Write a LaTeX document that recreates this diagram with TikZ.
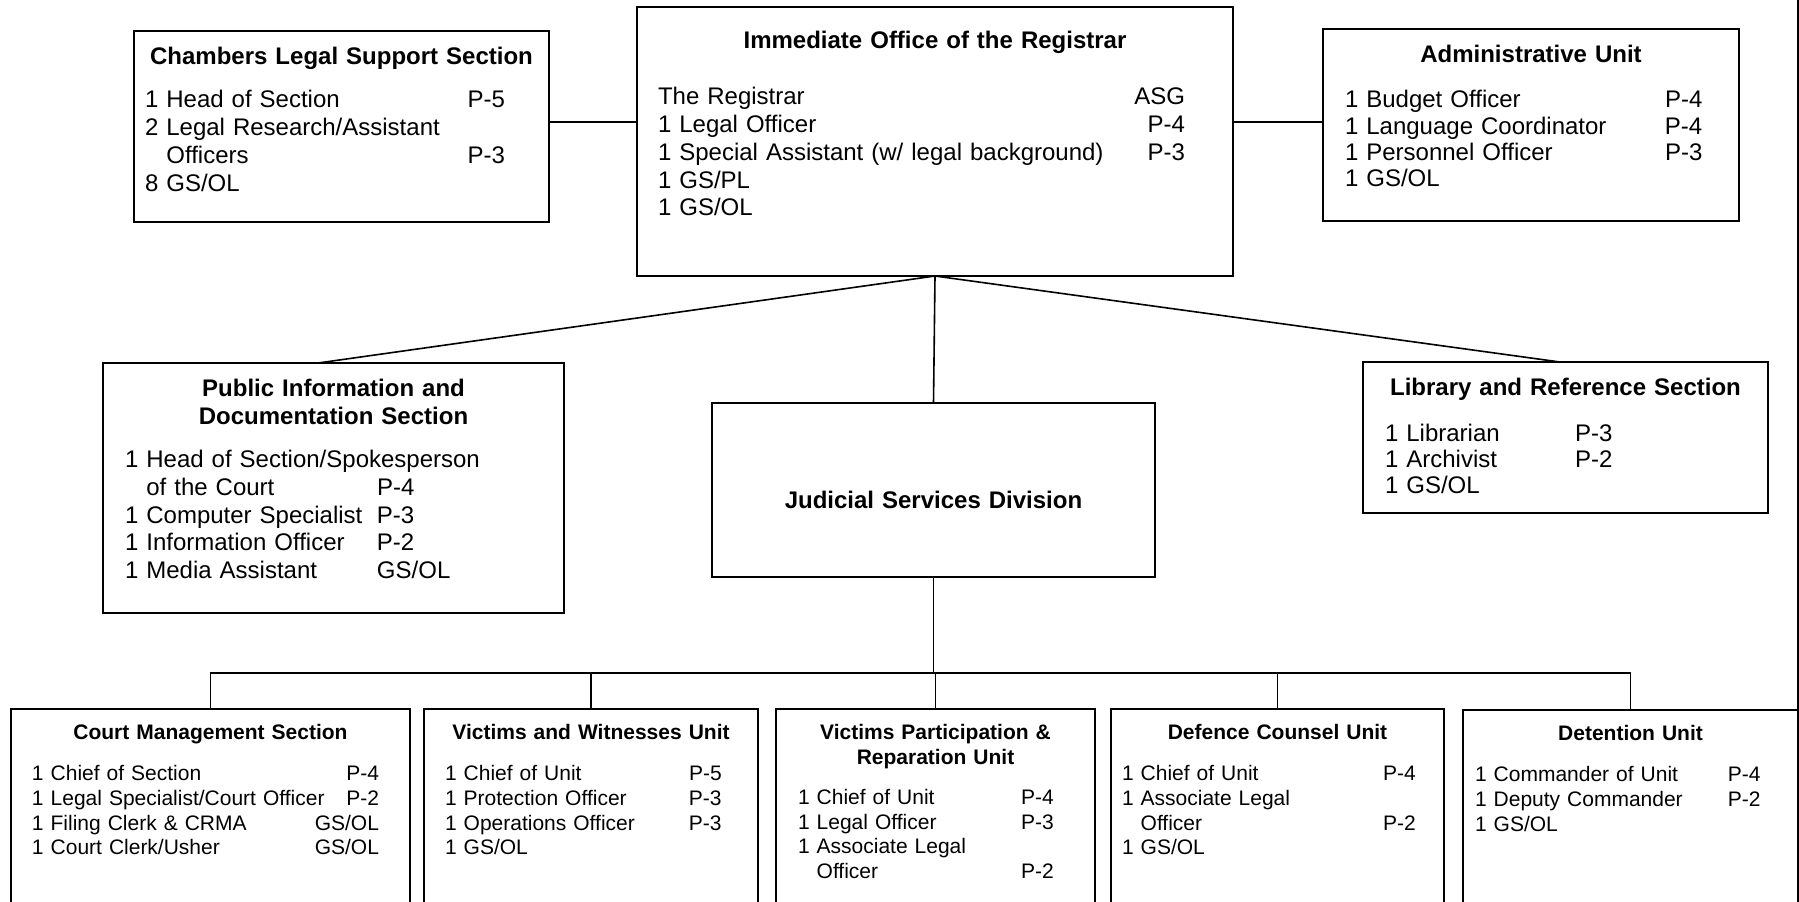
\documentclass[tikz,border=0pt]{standalone}
\usepackage{fontspec}
\setmainfont{Liberation Sans}
\tikzstyle{unit} = [rectangle, draw, line width=0.8pt, anchor=north west,
    inner ysep=0pt, outer sep=0pt, align=left]
\tikzstyle{topunit} = [unit, font=\fontsize{12}{13.9}\selectfont]
\tikzstyle{lowunit} = [unit, font=\fontsize{10.5}{12.35}\selectfont,
    text height=15.3pt, text depth=84.7pt]
\tikzstyle{line} = [draw, line width=0.8pt]
\newlength{\gradecol}
% centred bold heading of a box
\newcommand{\unittitle}[1]{{\centering\bfseries #1\par}}
% one post: name, then grade at \gradecol (left or right aligned)
\newcommand{\staffl}[2]{\makebox[\gradecol][l]{#1}#2\par}
\newcommand{\staffr}[2]{\makebox[\gradecol][l]{#1}\llap{#2}\par}
\newcommand{\wrapind}{\hphantom{1\ }}

\begin{document}
\begin{tikzpicture}[x=0.5pt, y=-0.5pt]
        \useasboundingbox (0,0) rectangle (1799,901);
        \clip (0,0) rectangle (1799,901);
        % Place nodes

        % 1. Registrar and the two units beside the office
        \node [topunit, text width=277pt, inner xsep=10.5pt, text height=20.8pt, text depth=113.7pt] (regi) at (637,7) {%
          \unittitle{Immediate Office of the Registrar}
          \vspace{14.1pt}
          \setlength{\gradecol}{263.5pt}%
          \staffr{The Registrar}{ASG}
          \staffr{1 Legal Officer}{P-4}
          \staffr{1 Special Assistant (w/ legal background)}{P-3}
          \staffr{1 GS/PL}{}
          \staffr{1 GS/OL}{}};
        \node [topunit, text width=196.5pt, inner xsep=5.5pt, text height=16.8pt, text depth=78.7pt] (cham) at (134,31) {%
          \unittitle{Chambers Legal Support Section}
          \vspace{7.6pt}
          \setlength{\gradecol}{161.25pt}%
          \staffl{1 Head of Section}{P-5}
          \staffl{2 Legal Research/Assistant}{}
          \staffl{\wrapind Officers}{P-3}
          \staffl{8 GS/OL}{}};
        \node [topunit, font=\fontsize{12}{13.2}\selectfont, text width=186pt, inner xsep=11pt, text height=16.8pt, text depth=79.2pt] (admi) at (1323,29) {%
          \unittitle{Administrative Unit}
          \vspace{9.3pt}
          \setlength{\gradecol}{160pt}%
          \staffl{1 Budget Officer}{P-4}
          \staffl{1 Language Coordinator}{P-4}
          \staffl{1 Personnel Officer}{P-3}
          \staffl{1 GS/OL}{}};

        % 2. Second row under the office
        \node [topunit, text width=208.5pt, inner xsep=11pt, text height=16.8pt, text depth=108.2pt] (publ) at (103,363) {%
          \unittitle{Public Information and\\Documentation Section}
          \vspace{7.6pt}
          \setlength{\gradecol}{126pt}%
          \staffl{1 Head of Section/Spokesperson}{}
          \staffl{\wrapind of the Court}{P-4}
          \staffl{1 Computer Specialist}{P-3}
          \staffl{1 Information Officer}{P-2}
          \staffl{1 Media Assistant}{GS/OL}};
        \node [unit, align=center, font=\fontsize{12}{13.9}\selectfont\bfseries, text width=221.5pt, inner xsep=0pt, text height=52.8pt, text depth=34.2pt] (judi) at (712,403) {Judicial Services Division};
        \node [topunit, font=\fontsize{12}{13}\selectfont, text width=180.5pt, inner xsep=11pt, text height=16.8pt, text depth=58.7pt] (libr) at (1363,362) {%
          \unittitle{Library and Reference Section}
          \vspace{10pt}
          \setlength{\gradecol}{95pt}%
          \staffl{1 Librarian}{P-3}
          \staffl{1 Archivist}{P-2}
          \staffl{1 GS/OL}{}};

        % 3. Sections of the Judicial Services Division
        \node [lowunit, text width=178.5pt, inner xsep=10.5pt] (cour) at (11,709) {%
          \unittitle{Court Management Section}
          \vspace{8.15pt}
          \setlength{\gradecol}{173.5pt}%
          \staffr{1 Chief of Section}{P-4}
          \staffr{1 Legal Specialist/Court Officer}{P-2}
          \staffr{1 Filing Clerk \& CRMA}{GS/OL}
          \staffr{1 Court Clerk/Usher}{GS/OL}};
        \node [lowunit, text width=146pt, inner xsep=10.5pt] (vict) at (424,709) {%
          \unittitle{Victims and Witnesses Unit}
          \vspace{8.15pt}
          \setlength{\gradecol}{122pt}%
          \staffl{1 Chief of Unit}{P-5}
          \staffl{1 Protection Officer}{P-3}
          \staffl{1 Operations Officer}{P-3}
          \staffl{1 GS/OL}{}};
        \node [lowunit, text width=137.5pt, inner xsep=11pt] (vpru) at (776,709) {%
          \unittitle{Victims Participation \&\\Reparation Unit}
          \vspace{7.65pt}
          \setlength{\gradecol}{111.5pt}%
          \staffl{1 Chief of Unit}{P-4}
          \staffl{1 Legal Officer}{P-3}
          \staffl{1 Associate Legal}{}
          \staffl{\wrapind Officer}{P-2}};
        \node [lowunit, text width=155.5pt, inner xsep=5.5pt] (defe) at (1111,709) {%
          \unittitle{Defence Counsel Unit}
          \vspace{8.15pt}
          \setlength{\gradecol}{130.5pt}%
          \staffl{1 Chief of Unit}{P-4}
          \staffl{1 Associate Legal}{}
          \staffl{\wrapind Officer}{P-2}
          \staffl{1 GS/OL}{}};
        \node [lowunit, text width=155.5pt, inner xsep=6pt] (dete) at (1463,710) {%
          \unittitle{Detention Unit}
          \vspace{8.15pt}
          \setlength{\gradecol}{126.5pt}%
          \staffl{1 Commander of Unit}{P-4}
          \staffl{1 Deputy Commander}{P-2}
          \staffl{1 GS/OL}{}};

        \coordinate (bus) at ([yshift=-48pt]judi.south); % level of the lower bar

        % Draw edges
        \path [line] ([yshift=2.25pt]cham.east) coordinate (c1) -- (c1 -| regi.west);
        \path [line] ([yshift=1.5pt]admi.west) coordinate (c2) -- (c2 -| regi.east);
        \path [line] (regi.south) -- ([xshift=-7.75pt]publ.north);
        \path [line] (regi.south) -- (judi.north);
        \path [line] (regi.south) -- ([xshift=-2.75pt]libr.north);
        \path [line] (judi.south) -- (bus);
        \path [line] (cour.north) |- (bus) -| (dete.north);
        \foreach \n in {vict,vpru,defe}
          \path [line] (\n.north) -- (\n.north |- bus);
        \path [line] (dete.north east) -- ++(0,355pt); % right margin rule
      \end{tikzpicture}
\end{document}
